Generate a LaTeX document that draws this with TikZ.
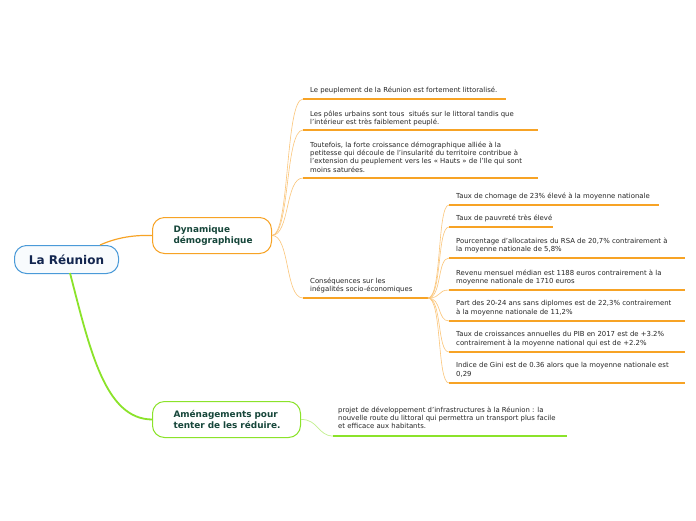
\documentclass[tikz,border=0pt]{standalone}
\usepackage{fontspec}
\setmainfont{DejaVu Sans}
\begin{document}
\begin{tikzpicture}[x=1pt,y=-1pt,
  txt/.style={anchor=north west,inner sep=0pt,align=left,font=\fontsize{6.9}{8.3}\selectfont,text=black!85},
  main/.style={rounded corners=12pt,draw,line width=1pt,fill=white,font=\bfseries\fontsize{8.9}{10.5}\selectfont,text=dgreen,align=left,anchor=north west,inner sep=0pt},
  ofan/.style={draw=olight,line width=0.6pt},
  oline/.style={draw=orange1,line width=1.3pt},
  gline/.style={draw=green1,line width=1.3pt}]
\definecolor{orange1}{HTML}{F7A325}
\definecolor{olight}{HTML}{FBC67A}
\definecolor{green1}{HTML}{8BE32A}
\definecolor{glight}{HTML}{C2F08E}
\definecolor{blue1}{HTML}{4A9AD8}
\definecolor{navy}{HTML}{13264F}
\definecolor{dgreen}{HTML}{16463A}
\useasboundingbox (0,0) rectangle (696,520);
\fill[white] (0,0) rectangle (696,520);

% main nodes
\node[draw=blue1,rounded corners=12pt,line width=1pt,fill=blue1!4,minimum width=104pt,minimum height=28pt,anchor=north west,inner sep=0pt,font=\bfseries\fontsize{12}{14}\selectfont,text=navy] (root) at (14,245) {La Réunion};
\node[main,draw=orange1,text width=119pt,minimum height=36pt] (dyn) at (152,217) {\hspace*{21pt}Dynamique\\\hspace*{21pt}démographique};
\node[main,draw=green1,text width=148pt,minimum height=36pt] (amen) at (152,401) {\hspace*{21pt}Aménagements pour\\\hspace*{21pt}tenter de les réduire.};

% root connectors
\coordinate (rt) at (100,245);
\coordinate (rb) at (70,273);
\draw[draw=orange1,line width=1.2pt] (rt) .. controls (118,237) and (135,235) .. (dyn.west);
\draw[draw=green1,line width=1.8pt] (rb) .. controls (90,350) and (105,419) .. (amen.west);

% level-2 underlines
\coordinate (a1) at (303,99);  \coordinate (b1) at (506,99);
\coordinate (a2) at (303,130); \coordinate (b2) at (538,130);
\coordinate (a3) at (303,178); \coordinate (b3) at (538,178);
\coordinate (a4) at (303,298); \coordinate (b4) at (428,298);
\foreach \i in {1,2,3,4}{
  \draw[ofan] (dyn.east) .. controls (290,235) and (285,0|-a\i) .. (a\i);
  \draw[oline] (a\i) -- (b\i);
}
\node[txt] (t1) at (310,86.5) {Le peuplement de la Réunion est fortement littoralisé.};
\node[txt] (t2) at (310,110.5) {Les pôles urbains sont tous\ \ situés sur le littoral tandis que\\l'intérieur est très faiblement peuplé.};
\node[txt] (t3) at (310,141.5) {Toutefois, la forte croissance démographique alliée à la\\petitesse qui découle de l'insularité du territoire contribue à\\l'extension du peuplement vers les « Hauts » de l'Ile qui sont\\moins saturées.};
\node[txt] (t4) at (310,277.5) {Conséquences sur les\\inégalités socio-économiques};

% level-3
\coordinate (c1) at (449,205); \coordinate (d1) at (659,205);
\coordinate (c2) at (449,227); \coordinate (d2) at (553,227);
\coordinate (c3) at (449,258); \coordinate (d3) at (685,258);
\coordinate (c4) at (449,290); \coordinate (d4) at (685,290);
\coordinate (c5) at (449,321); \coordinate (d5) at (685,321);
\coordinate (c6) at (449,352); \coordinate (d6) at (685,352);
\coordinate (c7) at (449,383); \coordinate (d7) at (685,383);
\foreach \i in {1,...,7}{
  \draw[ofan] (b4) .. controls (442,298) and (437,0|-c\i) .. (c\i);
  \draw[oline] (c\i) -- (d\i);
}
\node[txt] at (456,192.5) {Taux de chomage de 23\% élevé à la moyenne nationale};
\node[txt] at (456,214.5) {Taux de pauvreté très élevé};
\node[txt] at (456,237.5) {Pourcentage d'allocataires du RSA de 20,7\% contrairement à\\la moyenne nationale de 5,8\%};
\node[txt] at (456,269.5) {Revenu mensuel médian est 1188 euros contrairement à la\\moyenne nationale de 1710 euros};
\node[txt] at (456,300.5) {Part des 20-24 ans sans diplomes est de 22,3\% contrairement\\à la moyenne nationale de 11,2\%};
\node[txt] at (456,331.5) {Taux de croissances annuelles du PIB en 2017 est de +3.2\%\\contrairement à la moyenne national qui est de +2.2\%};
\node[txt] at (456,362.5) {Indice de Gini est de 0.36 alors que la moyenne nationale est\\0,29};

% green branch
\coordinate (e1) at (333,436); \coordinate (f1) at (567,436);
\draw[draw=glight,line width=0.7pt] (amen.east) .. controls (318,419) and (318,436) .. (e1);
\draw[gline] (e1) -- (f1);
\node[txt] at (338,406.5) {projet de développement d'infrastructures à la Réunion : la\\nouvelle route du littoral qui permettra un transport plus facile\\et efficace aux habitants.};
\end{tikzpicture}
\end{document}
